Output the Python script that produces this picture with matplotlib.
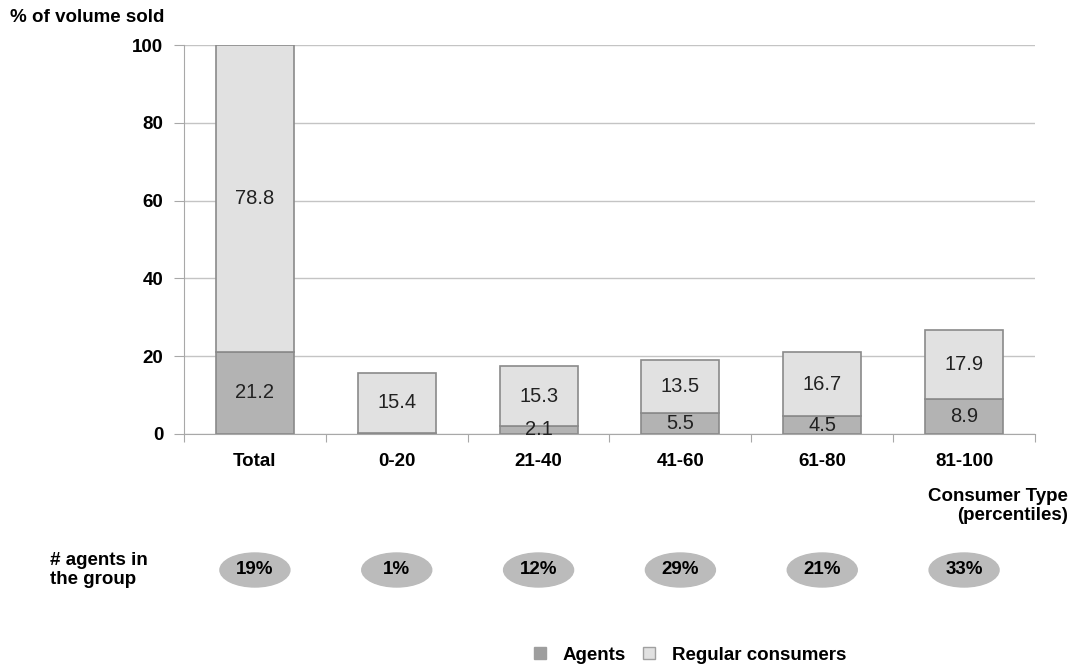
import matplotlib.pyplot as plt
from matplotlib.patches import Ellipse, Patch
import numpy as np

plt.rcParams['font.family'] = ['Liberation Sans', 'DejaVu Sans']

# Share of volume sold, by consumer type
categories = ['Total', '0-20', '21-40', '41-60', '61-80', '81-100']
agents = [21.2, 0.3, 2.1, 5.5, 4.5, 8.9]
regular = [78.8, 15.4, 15.3, 13.5, 16.7, 17.9]
agent_labels = ['21.2', None, '2.1', '5.5', '4.5', '8.9']
regular_labels = ['78.8', '15.4', '15.3', '13.5', '16.7', '17.9']
share_of_agents = ['19%', '1%', '12%', '29%', '21%', '33%']

AGENT_COLOR = '#b3b3b3'
REGULAR_COLOR = '#e1e1e1'
EDGE = '#8a8a8a'
BOLD = 13.5
VAL = 14.5

fig = plt.figure(figsize=(10.72, 6.68), dpi=100)
ax = fig.add_axes([184 / 1072, 1 - 434 / 668, (1035 - 184) / 1072, (434 - 45) / 668])

x = np.arange(len(categories))
w = 0.55
ax.bar(x, agents, w, color=AGENT_COLOR, edgecolor=EDGE, linewidth=1.2, zorder=3)
ax.bar(x, regular, w, bottom=agents, color=REGULAR_COLOR, edgecolor=EDGE,
       linewidth=1.2, zorder=3)

for i in range(len(categories)):
    if agent_labels[i]:
        ax.text(x[i], agents[i] / 2, agent_labels[i], ha='center', va='center',
                fontsize=VAL, color='#222222', zorder=4)
    ax.text(x[i], agents[i] + regular[i] / 2, regular_labels[i], ha='center',
            va='center', fontsize=VAL, color='#222222', zorder=4)

ax.set_xlim(-0.5, len(categories) - 0.5)
ax.set_ylim(0, 100)
ax.set_yticks(range(0, 101, 20))
ax.yaxis.grid(True, color='#c4c4c4', linewidth=1)
ax.set_axisbelow(True)
for s in ['top', 'right']:
    ax.spines[s].set_visible(False)
ax.spines['left'].set_color('#a8a8a8')
ax.spines['bottom'].set_color('#a8a8a8')
ax.tick_params(axis='y', length=7, color='#a8a8a8', labelsize=BOLD, pad=8)
ax.set_xticks(np.arange(len(categories) + 1) - 0.5)
ax.set_xticklabels([])
ax.tick_params(axis='x', length=6, color='#a8a8a8', direction='out')
for lab in ax.get_yticklabels():
    lab.set_fontweight('bold')
for i, c in enumerate(categories):
    ax.text(x[i], -4.8, c, ha='center', va='top', fontsize=BOLD, fontweight='bold')

fig.text(10 / 1072, 1 - 18 / 668, '% of volume sold', fontsize=BOLD,
         fontweight='bold', va='center', ha='left')
fig.text(1068 / 1072, 1 - 506 / 668, 'Consumer Type\n(percentiles)', fontsize=BOLD,
         fontweight='bold', ha='right', va='center', linespacing=1.1)
fig.text(50 / 1072, 1 - 570 / 668, '# agents in\nthe group', fontsize=BOLD,
         fontweight='bold', ha='left', va='center', linespacing=1.15)

# Ovals with share of agents per group, in figure pixel coordinates
ov = fig.add_axes([0, 0, 1, 1], zorder=-1)
ov.set_xlim(0, 1072)
ov.set_ylim(668, 0)
ov.axis('off')
for i, s in enumerate(share_of_agents):
    cx = ax.transData.transform((x[i], 0))[0]
    ov.add_patch(Ellipse((cx, 570), 70, 34, color='#bbbbbb'))
    ov.text(cx, 570, s, ha='center', va='center', fontsize=BOLD, fontweight='bold')

handles = [Patch(facecolor='#9e9e9e', edgecolor='#9e9e9e', label='Agents'),
           Patch(facecolor=REGULAR_COLOR, edgecolor='#a0a0a0', label='Regular consumers')]
fig.legend(handles=handles, loc='center', bbox_to_anchor=(690 / 1072, 1 - 655 / 668),
           ncol=2, frameon=False, prop={'size': BOLD, 'weight': 'bold'},
           handlelength=0.65, handleheight=0.65, columnspacing=0.9, handletextpad=0.9)

fig.savefig('out.png', dpi=100)
